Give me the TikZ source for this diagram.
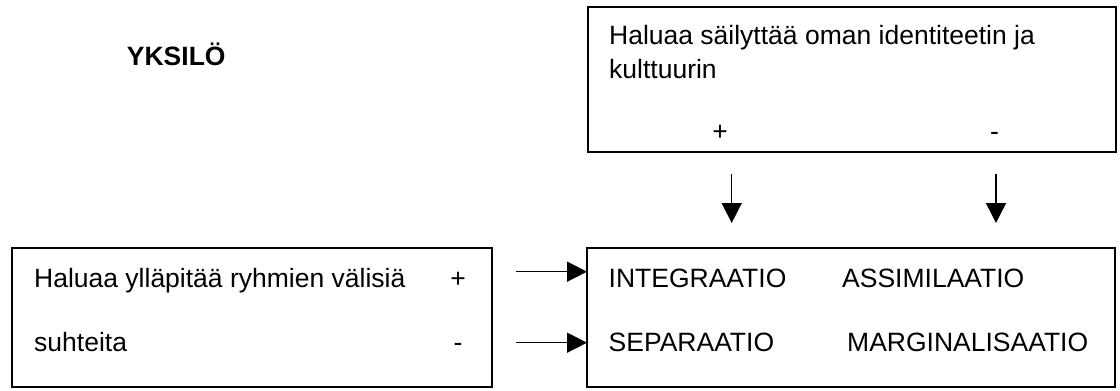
\documentclass[tikz,border=0pt]{standalone}
\usepackage{fontspec}
\setmainfont{Liberation Sans}
\usetikzlibrary{arrows.meta}
\begin{document}
\begin{tikzpicture}[x=1pt,y=-1pt,
  box/.style={draw, line width=1.5pt, inner sep=0pt, outer sep=0pt},
  txt/.style={anchor=base west, inner sep=0pt, font=\fontsize{26.5}{30}\selectfont},
  sgn/.style={anchor=base, inner sep=0pt, font=\fontsize{26.5}{30}\selectfont},
  arr/.style={line width=1.5pt, -{Triangle[length=20pt,width=20pt]}}]
\useasboundingbox (0,0) rectangle (1120,391);

% title
\node[txt, font=\fontsize{26.5}{30}\selectfont\bfseries] (title) at (126.7,65) {YKSILÖ};

% boxes
\node[box, minimum width=528pt, minimum height=145pt] (keep) at (852,79.5) {};
\node[box, minimum width=480pt, minimum height=139pt] (rel) at (252,317.5) {};
\node[box, minimum width=528pt, minimum height=139pt] (res) at (851,317.5) {};

% upper box text
\node[txt] (k1) at (609,44) {Haluaa säilyttää oman identiteetin ja};
\node[txt] (k2) at (609,78) {kulttuurin};
\node[sgn] (kp) at (720,140) {+};
\node[sgn] (km) at (994.6,140) {-};

% left box text
\node[txt] (r1) at (34,287) {Haluaa ylläpitää ryhmien välisiä};
\node[txt] (r2) at (34,351) {suhteita};
\node[sgn] (rp) at (458,287) {+};
\node[sgn] (rm) at (458,351) {-};

% outcome box text
\node[txt] (o1) at (608.5,287) {INTEGRAATIO};
\node[txt] (o2) at (842,287) {ASSIMILAATIO};
\node[txt] (o3) at (608.5,351) {SEPARAATIO};
\node[txt] (o4) at (847,351) {MARGINALISAATIO};

% connector positions
\coordinate (vx1) at (731.7,0);
\coordinate (vx2) at (996,0);
\coordinate (hy1) at (0,271.7);
\coordinate (hy2) at (0,342.7);

% vertical arrows
\draw[arr, shorten <=22pt, shorten >=25pt] (keep.south -| vx1) -- (res.north -| vx1);
\draw[arr, shorten <=22pt, shorten >=25pt] (keep.south -| vx2) -- (res.north -| vx2);

% horizontal arrows
\draw[arr, shorten <=24pt] (rel.east |- hy1) -- (res.west |- hy1);
\draw[arr, shorten <=24pt] (rel.east |- hy2) -- (res.west |- hy2);
\end{tikzpicture}
\end{document}
